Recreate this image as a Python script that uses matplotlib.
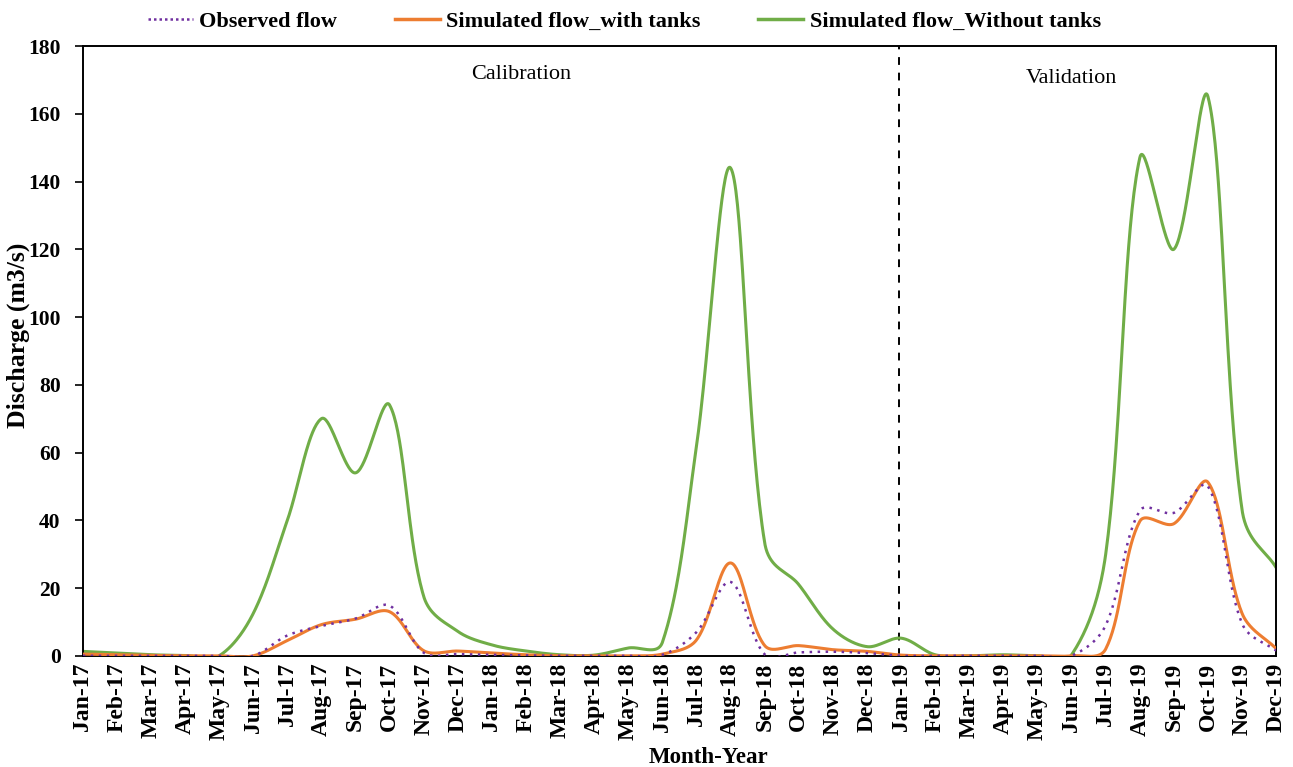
import numpy as np
import matplotlib
matplotlib.use("Agg")
import matplotlib.pyplot as plt
from matplotlib.lines import Line2D

months = ["Jan-17", "Feb-17", "Mar-17", "Apr-17", "May-17", "Jun-17", "Jul-17", "Aug-17", "Sep-17",
          "Oct-17", "Nov-17", "Dec-17", "Jan-18", "Feb-18", "Mar-18", "Apr-18", "May-18", "Jun-18",
          "Jul-18", "Aug-18", "Sep-18", "Oct-18", "Nov-18", "Dec-18", "Jan-19", "Feb-19", "Mar-19",
          "Apr-19", "May-19", "Jun-19", "Jul-19", "Aug-19", "Sep-19", "Oct-19", "Nov-19", "Dec-19"]

observed = [0.0, 0.0, 0.0, 0.0, 0.0, 0.0, 6.0, 8.8, 11.0, 14.8, 0.9, 0.5,
            0.3, 0.1, 0.0, 0.0, 0.0, 0.3, 7.0, 21.8, 0.4, 1.0, 1.2, 0.8,
            0.0, 0.0, 0.0, 0.0, 0.0, 0.0, 9.0, 42.8, 42.2, 50.0, 9.5, 1.5]

with_tanks = [0.5, 0.3, 0.1, 0.0, 0.0, 0.0, 4.5, 9.2, 10.8, 13.0, 1.5, 1.4,
              0.8, 0.3, 0.0, 0.0, 0.0, 0.5, 4.7, 27.4, 3.0, 3.0, 1.8, 1.3,
              0.2, 0.0, 0.0, 0.0, 0.0, 0.0, 2.0, 39.7, 39.0, 51.2, 12.5, 2.1]

without_tanks = [1.3, 0.8, 0.3, 0.1, 0.0, 12.5, 40.0, 70.0, 54.0, 74.0, 17.5, 7.2,
                 3.2, 1.4, 0.3, 0.2, 2.3, 4.0, 62.0, 144.0, 33.3, 21.0, 7.9, 2.7,
                 5.2, 0.3, 0.0, 0.3, 0.0, 0.3, 30.0, 147.0, 120.0, 165.0, 43.0, 26.0]

series_names = ["Observed flow", "Simulated flow_with tanks", "Simulated flow_Without tanks"]
y_ticks = [0, 20, 40, 60, 80, 100, 120, 140, 160, 180]

# pixel scale of one x step and one y unit (used to smooth in screen space like Excel)
SX, SY = 34.1, 3.39


def excel_smooth(y, n=40, w=0.82):
    y = np.asarray(y, dtype=float)
    x = np.arange(len(y), dtype=float)
    pts = np.column_stack([x * SX, y * SY])
    m = len(pts)
    out = []
    for i in range(m - 1):
        p0 = pts[i - 1] if i > 0 else pts[i]
        p1 = pts[i]
        p2 = pts[i + 1]
        p3 = pts[i + 2] if i + 2 < m else pts[i + 1]
        d01 = np.hypot(*(p1 - p0)); d12 = np.hypot(*(p2 - p1)); d23 = np.hypot(*(p3 - p2))
        r1 = d12 / (d01 + d12) if (d01 + d12) > 0 else 0.5
        r2 = d12 / (d12 + d23) if (d12 + d23) > 0 else 0.5
        f1 = (1 - w) * 0.5 + w * r1
        f2 = (1 - w) * 0.5 + w * r2
        c1 = p1 + (p2 - p0) * f1 / 3.0
        c2 = p2 - (p3 - p1) * f2 / 3.0
        tt = np.linspace(0, 1, n)[:, None]
        b = ((1 - tt) ** 3) * p1 + 3 * ((1 - tt) ** 2) * tt * c1 + 3 * (1 - tt) * tt ** 2 * c2 + tt ** 3 * p2
        if i > 0:
            b = b[1:]
        out.append(b)
    b = np.concatenate(out)
    return b[:, 0] / SX, b[:, 1] / SY


plt.rcParams['font.family'] = ['Liberation Serif', 'DejaVu Serif']

fig = plt.figure(figsize=(12.93, 7.67), dpi=100)
ax = fig.add_axes([0.064, 0.145, 0.923, 0.795])

c_obs = "#7030A0"
c_with = "#ED7D31"
c_without = "#70AD47"

xg, yg = excel_smooth(without_tanks)
ax.plot(xg, yg, color=c_without, lw=2.2, solid_capstyle='round', zorder=2)
xo, yo = excel_smooth(with_tanks)
ax.plot(xo, yo, color=c_with, lw=2.2, solid_capstyle='round', zorder=3)
xp, yp = excel_smooth(observed)
ax.plot(xp, yp, color=c_obs, lw=1.8, linestyle=(0, (1, 2.2)), zorder=4)

ax.axvline(23.93, ymin=0, ymax=1, color="black", lw=1.4, linestyle=(0, (4, 4)), zorder=1)

ax.set_xlim(0, len(months) - 1)
ax.set_ylim(0, 180)
ax.set_yticks(y_ticks)
ax.set_yticklabels([str(v) for v in y_ticks], fontsize=15.5, fontweight='bold')
ax.set_xticks(np.arange(len(months)))
ax.set_xticklabels(months, rotation=90, fontsize=17, fontweight='bold')
ax.tick_params(axis='x', length=0, pad=5)
ax.tick_params(axis='y', length=6, width=1.2, direction='out', pad=10)
for s in ax.spines.values():
    s.set_linewidth(1.4)
    s.set_color("black")

fig.text(0.0145, 0.563, "Discharge (m3/s)", fontsize=18.5, fontweight='bold', rotation=90,
         ha='center', va='center')
fig.text(0.548, 0.013, "Month-Year", fontsize=16.5, fontweight='bold', ha='center', va='center')

ax.text(12.85, 171.5, "Calibration", fontsize=16, ha='center', va='center')
ax.text(29.0, 170.5, "Validation", fontsize=16, ha='center', va='center')

handles = [Line2D([0], [0], color=c_obs, lw=1.8, linestyle=(0, (1, 1.2))),
           Line2D([0], [0], color=c_with, lw=2.5),
           Line2D([0], [0], color=c_without, lw=2.5)]
leg = fig.legend(handles, series_names, loc='center', bbox_to_anchor=(0.483, 0.972), ncol=3,
                 frameon=False, handlelength=2.0, handletextpad=0.3, columnspacing=2.6,
                 prop={'weight': 'bold', 'size': 16, 'family': 'Liberation Serif'})

fig.savefig("out.png", dpi=100)
